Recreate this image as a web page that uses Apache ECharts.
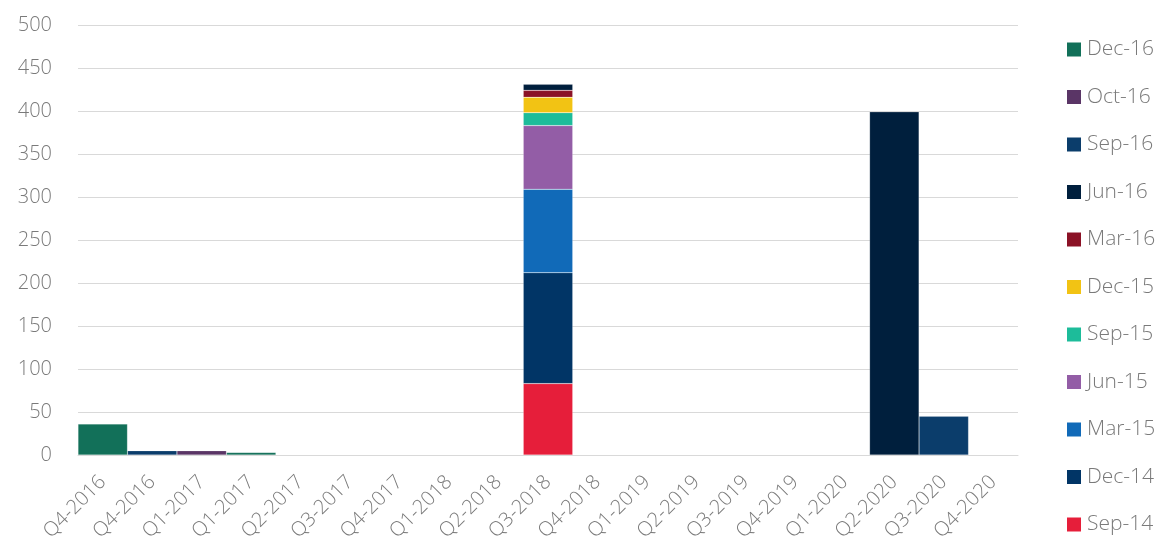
<!DOCTYPE html>
<html>
<head>
<meta charset="utf-8">
<script src="https://cdn.jsdelivr.net/npm/echarts@6/dist/echarts.min.js"></script>
<style>
  html, body { margin: 0; padding: 0; background: #fff; }
  #chart { width: 1157px; height: 553px; }
</style>
</head>
<body>
<div id="chart"></div>
<script>
// Quarter buckets along the x axis
const categories = ['Q4-2016', 'Q4-2016', 'Q1-2017', 'Q1-2017', 'Q2-2017', 'Q3-2017', 'Q4-2017',
  'Q1-2018', 'Q2-2018', 'Q3-2018', 'Q4-2018', 'Q1-2019', 'Q2-2019', 'Q3-2019', 'Q4-2019',
  'Q1-2020', 'Q2-2020', 'Q3-2020', 'Q4-2020'];

// Series names, bottom of stack first
const seriesNames = ['Sep-14', 'Dec-14', 'Mar-15', 'Jun-15', 'Sep-15', 'Dec-15', 'Mar-16', 'Jun-16', 'Sep-16', 'Oct-16', 'Dec-16'];
const seriesColors = ['#e61e3a', '#013566', '#116ab8', '#935da6', '#1dbc9a', '#f2c314', '#8b1226', '#001f3d', '#0b3d6b', '#5a3566', '#127059'];

// Values per series, one per category (null = no bar)
const sep14 = [null, null, null, null, null, null, null, null, null, 83, null, null, null, null, null, null, null, null, null];
const dec14 = [null, null, null, null, null, null, null, null, null, 129, null, null, null, null, null, null, null, null, null];
const mar15 = [null, null, null, null, null, null, null, null, null, 97, null, null, null, null, null, null, null, null, null];
const jun15 = [null, null, null, null, null, null, null, null, null, 74, null, null, null, null, null, null, null, null, null];
const sep15 = [null, null, null, null, null, null, null, null, null, 15, null, null, null, null, null, null, null, null, null];
const dec15 = [null, null, null, null, null, null, null, null, null, 18, null, null, null, null, null, null, null, null, null];
const mar16 = [null, null, null, null, null, null, null, null, null, 8, null, null, null, null, null, null, null, null, null];
const jun16 = [null, null, null, null, null, null, null, null, null, 7, null, null, null, null, null, null, 399, null, null];
const sep16 = [null, 5, null, null, null, null, null, null, null, null, null, null, null, null, null, null, null, 45, null];
const oct16 = [null, null, 5, null, null, null, null, null, null, null, null, null, null, null, null, null, null, null, null];
const dec16 = [36, null, null, 3, null, null, null, null, null, null, null, null, null, null, null, null, null, null, null];

const seriesValues = [sep14, dec14, mar15, jun15, sep15, dec15, mar16, jun16, sep16, oct16, dec16];

// Y axis ticks
const yMin = 0, yMax = 500, yStep = 50;

const textColor = '#7a7a7a';
const fontFamily = '"Open Sans", "Segoe UI", sans-serif';

const chart = echarts.init(document.getElementById('chart'), null, { renderer: 'canvas' });

chart.setOption({
  animation: false,
  backgroundColor: '#ffffff',
  textStyle: { fontFamily: fontFamily },
  grid: { left: 78, right: 139, top: 25, bottom: 98, containLabel: false },
  legend: {
    orient: 'vertical',
    left: 1062,
    top: 34,
    itemWidth: 14,
    itemHeight: 14,
    itemGap: 26.5,
    itemStyle: { borderWidth: 0 },
    icon: 'rect',
    data: seriesNames.slice().reverse(),
    textStyle: { color: textColor, fontSize: 21, fontFamily: fontFamily, fontWeight: 300, padding: [0, 0, 0, 1] }
  },
  xAxis: {
    type: 'category',
    data: categories,
    boundaryGap: true,
    axisLine: { show: true, lineStyle: { color: '#d9d9d9', width: 1 } },
    axisTick: { show: false },
    axisLabel: {
      interval: 0,
      rotate: 45,
      margin: 24,
      color: textColor,
      fontSize: 20,
      fontFamily: fontFamily,
      fontWeight: 300
    }
  },
  yAxis: {
    type: 'value',
    min: yMin,
    max: yMax,
    interval: yStep,
    axisLine: { show: false },
    axisTick: { show: false },
    splitLine: { lineStyle: { color: '#d9d9d9', width: 1 } },
    axisLabel: {
      margin: 26,
      color: textColor,
      fontSize: 20,
      fontFamily: fontFamily,
      fontWeight: 300
    }
  },
  series: seriesNames.map((name, i) => ({
    name: name,
    type: 'bar',
    stack: 'total',
    barCategoryGap: '0%',
    data: seriesValues[i],
    itemStyle: { color: seriesColors[i], borderColor: 'rgba(255,255,255,0.35)', borderWidth: 0.5 }
  }))
});
</script>
</body>
</html>
